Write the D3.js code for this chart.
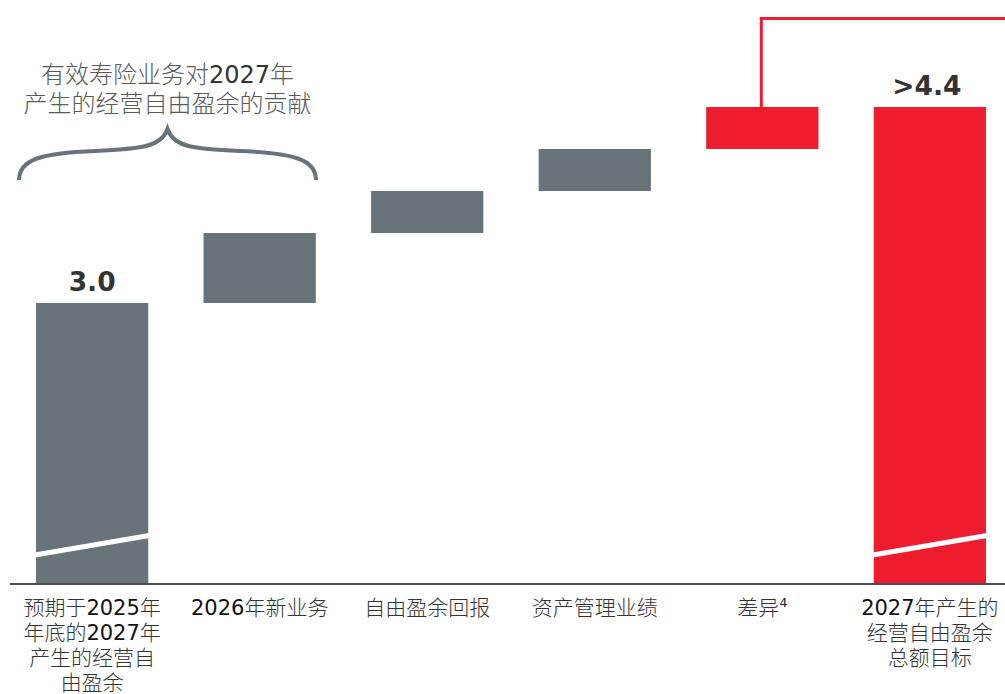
<!DOCTYPE html>
<html><head><meta charset="utf-8">
<script src="https://cdn.jsdelivr.net/npm/d3@7"></script>
<style>
html,body{margin:0;padding:0;background:#fff;}
svg{display:block;}
</style></head>
<body>
<svg id="chart" width="1005" height="694"></svg>
<script>
// ---- data ----
const categories = ["start", "newBiz", "fcfReturn", "amPerf", "diff", "target"];
const deltas = [3.0, 0.5, 0.3, 0.3, 0.3, 4.4];
const kinds = ["total", "step", "step", "step", "diff", "total"];
const valueLabels = ["3.0", "", "", "", "", ">4.4"];
const catLabels = [
  ["预期于2025年", "年底的2027年", "产生的经营自", "由盈余"],
  ["2026年新业务"],
  ["自由盈余回报"],
  ["资产管理业绩"],
  ["差异⁴"],
  ["2027年产生的", "经营自由盈余", "总额目标"]
];
const braceTitle = ["有效寿险业务对2027年", "产生的经营自由盈余的贡献"];

// ---- layout ----
const svg = d3.select("#chart");
const GRAY = "#69737a", RED = "#ed1c2e";
const x = d3.scaleBand().domain(categories).range([36, 986]).paddingInner(0.33).paddingOuter(0);
const y = d3.scaleLinear().domain([1.0, 4.4]).range([583, 107]);
const base = y.domain()[0];

// compute waterfall segments
let running = 0;
const bars = categories.map((c, i) => {
  let lo, hi;
  if (kinds[i] === "total") { lo = base; hi = deltas[i]; running = deltas[i]; }
  else { lo = running; hi = running + deltas[i]; running = hi; }
  return { c, lo, hi, kind: kinds[i], label: valueLabels[i] };
});

svg.selectAll("rect.bar").data(bars).join("rect")
  .attr("class", "bar")
  .attr("x", d => x(d.c))
  .attr("width", x.bandwidth())
  .attr("y", d => y(d.hi))
  .attr("height", d => y(d.lo) - y(d.hi))
  .attr("fill", d => (d.kind === "diff" || d.c === "target") ? RED : GRAY);

// axis-break white slashes on totals
svg.selectAll("line.brk").data(bars.filter(d => d.kind === "total")).join("line")
  .attr("class", "brk")
  .attr("x1", d => x(d.c) - 1).attr("x2", d => x(d.c) + x.bandwidth() + 1)
  .attr("y1", 555).attr("y2", 535.5)
  .attr("stroke", "#fff").attr("stroke-width", 5);

// baseline
svg.append("line").attr("x1", 10).attr("x2", 1005)
  .attr("y1", y(base) + 1).attr("y2", y(base) + 1)
  .attr("stroke", "#4d4d4d").attr("stroke-width", 2);

// value labels
svg.selectAll("text.val").data(bars.filter(d => d.label)).join("text")
  .attr("class", "val")
  .attr("x", d => x(d.c) + x.bandwidth() / 2 + (d.label.startsWith(">") ? -3 : 0))
  .attr("y", d => y(d.hi) - 12)
  .attr("text-anchor", "middle")
  .attr("font-family", "DejaVu Sans, Verdana, sans-serif")
  .attr("font-weight", "bold").attr("font-size", 26.5)
  .attr("fill", "#333")
  .text(d => d.label);

// red connector from diff bar
const diff = bars[4];
const cx = x(diff.c) + x.bandwidth() / 2 - 1;
svg.append("path")
  .attr("d", `M${cx},${y(diff.hi)} V18.5 H1005`)
  .attr("fill", "none").attr("stroke", RED).attr("stroke-width", 3);

// mixed-font text helper
function mixedText(sel, str, numFill, cjkFill) {
  const parts = str.match(/[0-9]+|[^0-9]+/g);
  parts.forEach(p => {
    const isNum = /^[0-9]+$/.test(p);
    sel.append("tspan")
      .attr("font-family", isNum ? "DejaVu Sans, Verdana, sans-serif" : "Noto Sans CJK SC, sans-serif")
      .attr("font-weight", isNum ? "normal" : 300)
      .attr("fill", isNum ? numFill : cjkFill)
      .text(p);
  });
}

// category labels
catLabels.forEach((lines, i) => {
  const cxl = x(categories[i]) + x.bandwidth() / 2;
  lines.forEach((ln, j) => {
    const t = svg.append("text")
      .attr("x", cxl).attr("y", 615 + j * 25)
      .attr("text-anchor", "middle").attr("font-size", 21);
    if (ln.endsWith("⁴")) {
      mixedText(t, ln.slice(0, -1), "#111", "#333");
      t.append("tspan").attr("font-family", "DejaVu Sans, sans-serif")
        .attr("font-size", 13).attr("dy", -8).attr("fill", "#222").text("4");
    } else mixedText(t, ln, "#111", "#333");
  });
});

// brace
const bx0 = 19, bx1 = 316, bm = (bx0 + bx1) / 2;
svg.append("path")
  .attr("d", `M${bx0},180 C${bx0},160 40,153 95,151 C140,149 ${bm - 6},147 ${bm},129 C${bm + 6},147 ${bx1 - 123},149 ${bx1 - 76},151 C${bx1 - 21},153 ${bx1},160 ${bx1},180`)
  .attr("fill", "none").attr("stroke", GRAY).attr("stroke-width", 4).attr("stroke-linecap", "butt");

braceTitle.forEach((ln, j) => {
  const t = svg.append("text").attr("x", bm).attr("y", 83 + j * 29)
    .attr("text-anchor", "middle").attr("font-size", 24);
  mixedText(t, ln, "#333", "#595959");
});
</script>
</body></html>
